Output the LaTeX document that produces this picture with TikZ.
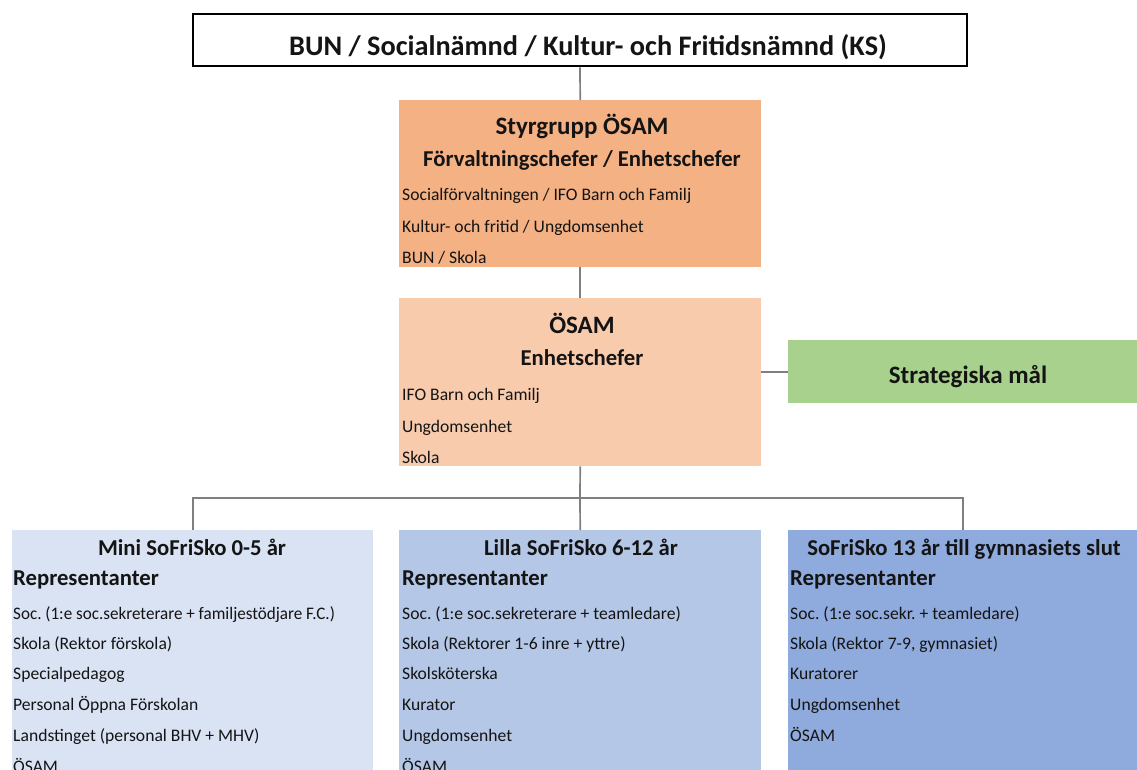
\documentclass[tikz,border=0pt]{standalone}
\usepackage{fontspec}
\setmainfont{Carlito}
\definecolor{orA}{HTML}{F4B183}
\definecolor{orB}{HTML}{F8CBAD}
\definecolor{grn}{HTML}{A9D18E}
\definecolor{blA}{HTML}{DAE3F3}
\definecolor{blB}{HTML}{B4C7E7}
\definecolor{blC}{HTML}{8FAADC}
\definecolor{lnc}{HTML}{7F7F7F}
\definecolor{txt}{HTML}{141414}
\tikzset{
  box/.style={draw=none, minimum width=#1, inner sep=0pt, anchor=north west},
  link/.style={draw=lnc, line width=1.7pt},
  big/.style={font=\bfseries\fontsize{25}{28}\selectfont, text=txt, inner sep=0pt, anchor=base},
  ttl/.style={font=\bfseries\fontsize{22.7}{26}\selectfont, text=txt, inner sep=0pt, anchor=base},
  rep/.style={font=\bfseries\fontsize{22.7}{26}\selectfont, text=txt, inner sep=0pt, anchor=base west},
  itm/.style={font=\fontsize{17.6}{20}\selectfont, text=txt, inner sep=0pt, anchor=base west},
}
\begin{document}
\frenchspacing
\begin{tikzpicture}[x=1pt,y=-1pt]
\useasboundingbox (0,0) rectangle (1137,769);
\clip (0,0) rectangle (1137,769);
% boxes
\node[box=774pt, minimum height=52pt, draw=black, line width=2.8pt, anchor=center] (top) at (580,40) {};
\node[font=\bfseries\fontsize{28.3}{32}\selectfont, text=txt, inner sep=0pt, anchor=base] (toptxt) at (588,55) {BUN / Socialnämnd / Kultur- och Fritidsnämnd (KS)};
\node[box=362pt, minimum height=167pt, fill=orA] (sty) at (399,100) {};
\node[box=362pt, minimum height=168pt, fill=orB] (osam) at (399,298) {};
\node[box=349pt, minimum height=63pt, fill=grn] (strat) at (788,340) {};
\node[box=361pt, minimum height=280pt, fill=blA] (mini) at (12,530) {};
\node[box=362pt, minimum height=280pt, fill=blB] (lilla) at (399,530) {};
\node[box=349pt, minimum height=280pt, fill=blC] (sofri) at (788,530) {};
% connectors
\coordinate (bar) at (580,498);
\draw[link] (top.south) -- (sty.north);
\draw[link] (sty.south) -- (osam.north);
\draw[link] (osam.east |- strat.west) -- (strat.west);
\draw[link] (osam.south) -- (bar);
\draw[link] (mini.north) -- (mini.north |- bar) -- (sofri.north |- bar) -- (sofri.north);
\draw[link] (bar) -- (lilla.north);
% Styrgrupp text
\node[big] (s1) at (582,134) {Styrgrupp ÖSAM};
\node[ttl] (s2) at (582,166) {Förvaltningschefer / Enhetschefer};
\node[itm] (s3) at (402,200) {Socialförvaltningen / IFO Barn och Familj};
\node[itm] (s4) at (402,232) {Kultur- och fritid / Ungdomsenhet};
\node[itm] (s5) at (402,263) {BUN / Skola};
% ÖSAM text
\node[big] (o1) at (582,333) {ÖSAM};
\node[ttl] (o2) at (582,365) {Enhetschefer};
\node[itm] (o3) at (402,400) {IFO Barn och Familj};
\node[itm] (o4) at (402,432) {Ungdomsenhet};
\node[itm] (o5) at (402,463) {Skola};
% Strategiska
\node[big] (st) at (968,383) {Strategiska mål};
% Mini
\node[ttl] (m1) at (192,555) {Mini SoFriSko 0-5 år};
\node[rep] (m2) at (13,585) {Representanter};
\node[itm] (m3) at (13,619) {\addfontfeature{FakeStretch=0.97}Soc. (1:e soc.sekreterare + familjestödjare F.C.)};
\node[itm] (m4) at (13,649) {Skola (Rektor förskola)};
\node[itm] (m5) at (13,679) {Specialpedagog};
\node[itm] (m6) at (13,710) {Personal Öppna Förskolan};
\node[itm] (m7) at (13,741) {Landstinget (personal BHV + MHV)};
\node[itm] (m8) at (13,772) {ÖSAM};
% Lilla
\node[ttl] (l1) at (581,555) {Lilla SoFriSko 6-12 år};
\node[rep] (l2) at (402,585) {Representanter};
\node[itm] (l3) at (402,619) {Soc. (1:e soc.sekreterare + teamledare)};
\node[itm] (l4) at (402,649) {Skola (Rektorer 1-6 inre + yttre)};
\node[itm] (l5) at (402,679) {Skolsköterska};
\node[itm] (l6) at (402,710) {Kurator};
\node[itm] (l7) at (402,741) {Ungdomsenhet};
\node[itm] (l8) at (402,772) {ÖSAM};
% SoFriSko
\node[ttl] (f1) at (964,555) {SoFriSko 13 år till gymnasiets slut};
\node[rep] (f2) at (790,585) {Representanter};
\node[itm] (f3) at (790,619) {Soc. (1:e soc.sekr. + teamledare)};
\node[itm] (f4) at (790,649) {Skola (Rektor 7-9, gymnasiet)};
\node[itm] (f5) at (790,679) {Kuratorer};
\node[itm] (f6) at (790,710) {Ungdomsenhet};
\node[itm] (f7) at (790,741) {ÖSAM};
\end{tikzpicture}
\end{document}
